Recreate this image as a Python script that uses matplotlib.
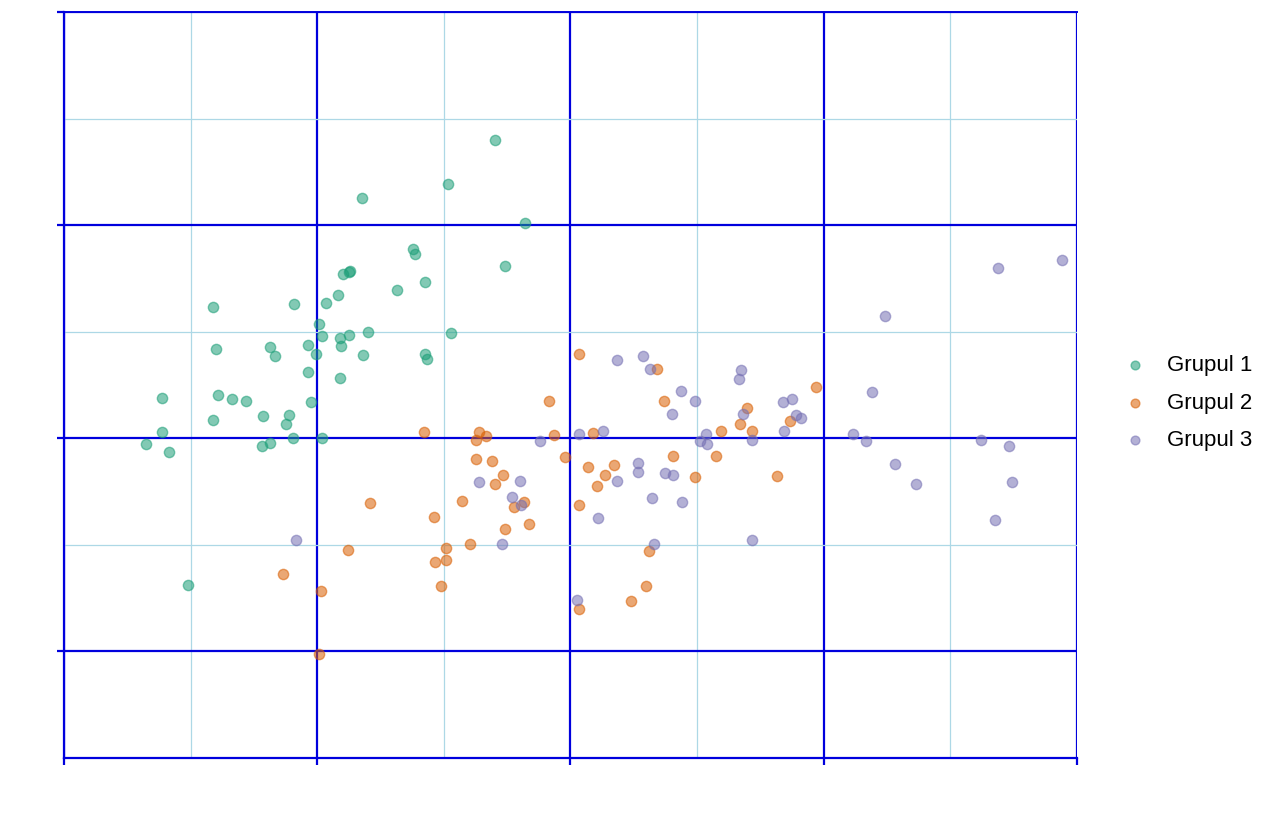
import numpy as np
import matplotlib
matplotlib.use("Agg")
import matplotlib.pyplot as plt
from matplotlib.ticker import MultipleLocator

plt.rcParams['font.family'] = ['Liberation Sans', 'DejaVu Sans']

# values
labels = ["Grupul 1", "Grupul 2", "Grupul 3"]
colors = ["#1b9e77", "#d95f02", "#7570b3"]

g1_x = [-2.82, -2.18, -1.93, -1.84, -1.99, -1.96, -1.82, -2.80, -2.37, -2.33,
        -2.07, -2.01, -1.81, -2.07, -1.82, -3.23, -2.78, -2.67, -2.56, -2.05,
        -2.82, -2.43, -2.22, -2.25, -3.23, -3.35, -3.17, -2.44, -2.37, -2.19,
        -1.96, -0.60, -0.97, -1.65, -0.36, -1.24, -1.23, -0.52, -1.80, -1.75,
        -1.74, -1.15, -1.37, -1.75, -1.60, -0.94, -1.64, -1.15, -1.13, -3.02]
g1_y = [1.23, 1.26, 1.27, 1.34, 1.07, 0.96, 0.94, 0.84, 0.86, 0.77,
        0.88, 0.79, 0.87, 0.62, 0.57, 0.38, 0.41, 0.37, 0.35, 0.34,
        0.17, 0.21, 0.22, 0.13, 0.06, -0.05, -0.13, -0.07, -0.04, 0.00,
        0.00, 2.80, 2.39, 2.25, 2.02, 1.78, 1.73, 1.62, 1.54, 1.56,
        1.57, 1.47, 1.39, 0.97, 1.00, 0.99, 0.78, 0.79, 0.74, -1.38]

g2_x = [-0.17, -1.16, -0.72, -0.67, -0.75, -0.13, -0.75, -0.62, -0.53, -0.60,
        -1.58, -0.86, -0.37, -0.45, -1.08, -0.33, -0.52, -1.76, -0.79, -0.98,
        -1.07, -0.98, -1.02, 0.07, 0.68, 0.74, 1.39, 1.34, 1.19, 1.43,
        0.18, -0.04, 0.81, 1.15, 0.14, 0.34, 0.27, 0.21, 0.98, 0.07,
        0.62, 0.60, 0.48, 0.07, -2.27, -1.97, -1.99, 1.94, 1.73, 1.63]
g2_y = [0.35, 0.06, 0.06, 0.02, -0.02, 0.03, -0.19, -0.21, -0.34, -0.43,
        -0.61, -0.59, -0.60, -0.64, -0.74, -0.80, -0.85, -1.05, -0.99, -1.03,
        -1.16, -1.14, -1.39, 0.79, 0.65, 0.35, 0.28, 0.13, 0.07, 0.07,
        0.05, -0.18, -0.17, -0.17, -0.27, -0.25, -0.34, -0.45, -0.36, -0.63,
        -1.06, -1.39, -1.53, -1.60, -1.27, -1.43, -2.02, 0.48, 0.16, -0.35]

g3_x = [-0.24, -0.72, -0.40, -0.46, -0.39, -0.54, 0.37, 0.57, 0.63, 1.35,
        1.33, 0.87, 0.98, 0.80, 1.36, 0.26, 0.07, 1.07, 1.02, 1.08,
        1.43, 0.53, 0.53, 0.75, 0.81, 0.37, 0.64, 0.88, 0.22, 0.66,
        1.43, 0.05, -2.17, 3.38, 3.88, 2.48, 2.38, 1.68, 1.75, 1.78,
        1.82, 1.69, 2.23, 2.33, 3.24, 3.46, 2.56, 2.73, 3.49, 3.35]
g3_y = [-0.03, -0.41, -0.40, -0.55, -0.63, -0.99, 0.73, 0.77, 0.65, 0.64,
        0.56, 0.44, 0.35, 0.23, 0.23, 0.07, 0.04, 0.04, -0.03, -0.05,
        -0.02, -0.23, -0.32, -0.33, -0.34, -0.40, -0.56, -0.60, -0.75, -0.99,
        -0.95, -1.52, -0.95, 1.60, 1.67, 1.15, 0.43, 0.34, 0.37, 0.22,
        0.19, 0.07, 0.04, -0.03, -0.02, -0.07, -0.24, -0.43, -0.41, -0.77]

groups = [(g1_x, g1_y), (g2_x, g2_y), (g3_x, g3_y)]

fig = plt.figure(figsize=(12.8, 8.32), dpi=100)
ax = fig.add_axes([0.05, 0.0889, 0.7914, 0.8967])

for (gx, gy), col, lab in zip(groups, colors, labels):
    ax.scatter(gx, gy, s=55, color=col, alpha=0.55, edgecolors=col,
               linewidths=1.0, label=lab, zorder=3)

ax.set_xlim(-4, 4)
ax.set_ylim(-3, 4)
ax.xaxis.set_major_locator(MultipleLocator(2))
ax.xaxis.set_minor_locator(MultipleLocator(1))
ax.yaxis.set_major_locator(MultipleLocator(2))
ax.yaxis.set_minor_locator(MultipleLocator(1))

ax.grid(which="major", color="#0000dd", linewidth=1.6, zorder=1)
ax.grid(which="minor", color="#add8e6", linewidth=0.9, zorder=0)
ax.set_axisbelow(True)

# top grid line sits on the upper limit, draw it whole like the reference
ax.axhline(4, color="#0000dd", linewidth=1.4, clip_on=False, zorder=1)

for side in ["top", "right"]:
    ax.spines[side].set_visible(False)
for side in ["left", "bottom"]:
    ax.spines[side].set_color("#0000dd")
    ax.spines[side].set_linewidth(1.6)

ax.tick_params(which="major", direction="out", length=5, width=1.6,
               color="#0000dd", labelbottom=False, labelleft=False)
ax.tick_params(which="minor", length=0)

leg = fig.legend(loc="center left", bbox_to_anchor=(0.878, 1 - 403 / 832),
                 frameon=False, fontsize=16, markerscale=0.85,
                 handlelength=1.0, handletextpad=0.95, labelspacing=0.75,
                 borderpad=0, borderaxespad=0)
for h in leg.legend_handles:
    h.set_alpha(0.55)

fig.savefig("out.png", dpi=100)
